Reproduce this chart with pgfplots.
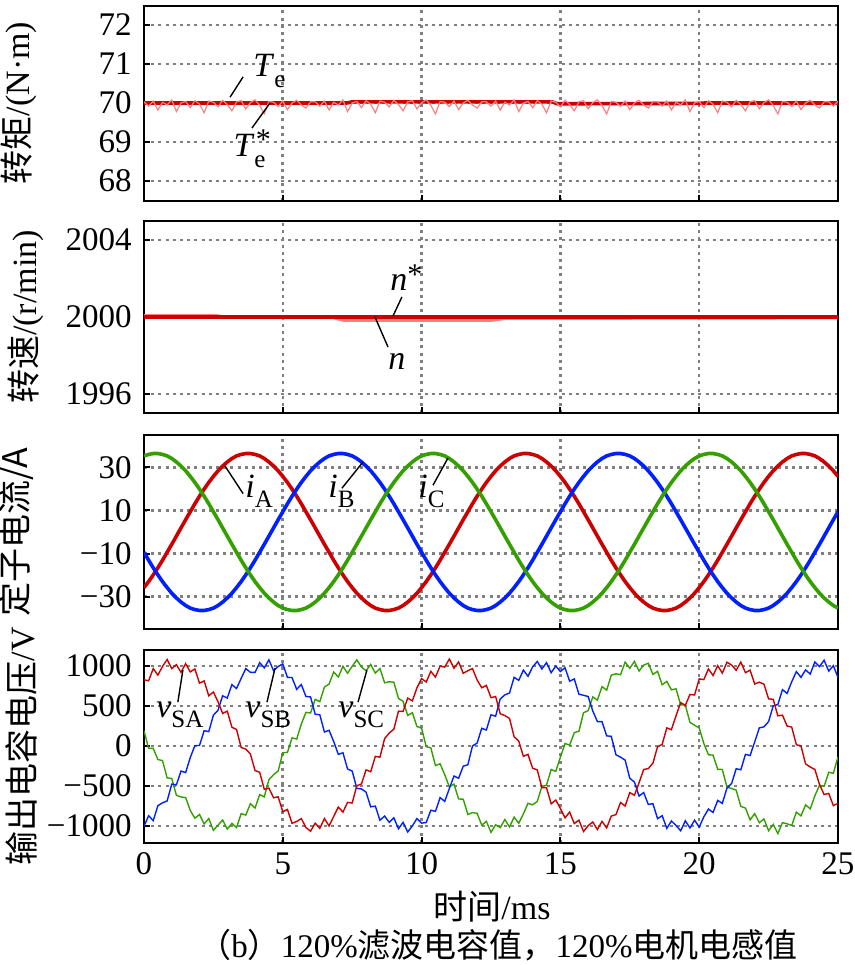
\documentclass[border=0pt]{standalone}
\usepackage{pgfplots}
\pgfplotsset{compat=1.18}
\usepackage{pgfplotstable}
\usepackage{fontspec}
\setmainfont{Liberation Serif}
\newfontfamily\cjk{Noto Sans CJK SC}
\definecolor{cR}{RGB}{204,0,0}
\definecolor{cB}{RGB}{0,32,255}
\definecolor{cG}{RGB}{51,160,0}
\definecolor{cP}{RGB}{255,128,128}
\definecolor{gridgray}{RGB}{128,128,128}
\newcommand{\tickf}{\fontsize{16.5}{18}\selectfont}
\newcommand{\labf}{\fontsize{17}{19}\selectfont}
\newcommand{\varf}{\fontsize{17}{19}\selectfont}
\newcommand{\sub}[1]{\raisebox{-0.3em}{\fontsize{12.5}{13}\selectfont #1}}

\pgfplotstableread{
t iA iB iC vA vB vC Te
0 -25.8 -9.4 35.3 830 -1003 193 70.03
0.167 -23.0 -13.1 36.0 817 -870 -27 69.92
0.333 -19.9 -16.6 36.4 970 -932 -28 70.05
0.5 -16.6 -19.9 36.4 888 -745 -168 69.82
0.667 -13.1 -23.0 36.0 996 -709 -181 70.02
0.833 -9.4 -25.8 35.3 1083 -686 -397 69.95
1 -5.7 -28.4 34.1 969 -475 -404 70.08
1.167 -1.9 -30.6 32.5 1019 -484 -615 69.78
1.333 1.9 -32.5 30.6 923 -312 -636 70.00
1.5 5.7 -34.1 28.4 1031 -331 -644 70.04
1.667 9.4 -35.3 25.8 928 -143 -805 69.88
1.833 13.1 -36.0 23.0 965 7 -902 70.06
2 16.6 -36.4 19.9 787 8 -855 69.97
2.167 19.9 -36.4 16.6 815 193 -973 69.75
2.333 23.0 -36.0 13.1 629 181 -906 70.05
2.5 25.8 -35.3 9.4 676 387 -1053 70.02
2.667 28.4 -34.1 5.7 555 449 -989 69.90
2.833 30.6 -32.5 1.9 409 630 -924 70.07
3 32.5 -30.6 -1.9 437 601 -1038 69.96
3.167 34.1 -28.4 -5.7 236 769 -966 69.80
3.333 35.3 -25.8 -9.4 208 720 -1018 70.03
3.5 36.0 -23.0 -13.1 -17 847 -845 70.06
3.667 36.4 -19.9 -16.6 -38 970 -862 69.85
3.833 36.4 -16.6 -19.9 -98 923 -720 70.01
4 36.0 -13.1 -23.0 -306 921 -774 70.08
4.167 35.3 -9.4 -25.8 -327 1043 -606 69.94
4.333 34.1 -5.7 -28.4 -539 979 -635 69.72
4.5 32.5 -1.9 -30.6 -525 1079 -419 70.04
4.667 30.6 1.9 -32.5 -646 943 -357 70.02
4.833 28.4 5.7 -34.1 -634 996 -311 69.91
5 25.8 9.4 -35.3 -820 1028 -83 70.05
5.167 23.0 13.1 -36.0 -792 860 -78 69.83
5.333 19.9 16.6 -36.4 -965 857 103 70.00
5.5 16.6 19.9 -36.4 -943 710 88 70.07
5.667 13.1 23.0 -36.0 -906 769 276 69.95
5.833 9.4 25.8 -35.3 -1018 621 422 69.87
6 5.7 28.4 -34.1 -1064 615 414 70.03
6.167 1.9 30.6 -32.5 -964 399 585 70.03
6.333 -1.9 32.5 -30.6 -1028 392 556 69.92
6.5 -5.7 34.1 -28.4 -906 176 739 70.05
6.667 -9.4 35.3 -25.8 -998 198 775 69.82
6.833 -13.1 36.0 -23.0 -880 58 927 70.02
7 -16.6 36.4 -19.9 -762 -103 865 69.95
7.167 -19.9 36.4 -16.6 -825 -83 998 70.08
7.333 -23.0 36.0 -13.1 -704 -286 911 69.78
7.5 -25.8 35.3 -9.4 -711 -312 998 70.00
7.667 -28.4 34.1 -5.7 -495 -529 1079 70.04
7.833 -30.6 32.5 -1.9 -474 -535 989 69.88
8 -32.5 30.6 1.9 -297 -576 943 70.06
8.167 -34.1 28.4 5.7 -321 -759 1021 69.97
8.333 -35.3 25.8 9.4 -128 -750 913 69.75
8.5 -36.0 23.0 13.1 -138 -927 970 70.05
8.667 -36.4 19.9 16.6 93 -875 792 70.02
8.833 -36.4 16.6 19.9 163 -953 805 69.90
9 -36.0 13.1 23.0 211 -896 799 70.07
9.167 -35.3 9.4 25.8 437 -1033 596 69.96
9.333 -34.1 5.7 28.4 434 -954 560 69.80
9.5 -32.5 1.9 30.6 600 -1074 384 70.03
9.667 -30.6 -1.9 32.5 566 -998 417 70.06
9.833 -28.4 -5.7 34.1 729 -906 246 69.85
10 -25.8 -9.4 35.3 845 -963 223 70.01
10.167 -23.0 -13.1 36.0 802 -955 -7 70.08
10.333 -19.9 -16.6 36.4 935 -802 -23 69.94
10.5 -16.6 -19.9 36.4 863 -815 -243 69.72
10.667 -13.1 -23.0 36.0 1001 -644 -221 70.04
10.833 -9.4 -25.8 35.3 988 -691 -357 70.02
11 -5.7 -28.4 34.1 1089 -530 -509 69.91
11.167 -1.9 -30.6 32.5 974 -374 -475 70.05
11.333 1.9 -32.5 30.6 1053 -402 -661 69.83
11.5 5.7 -34.1 28.4 911 -251 -664 70.00
11.667 9.4 -35.3 25.8 943 -233 -855 70.07
11.833 13.1 -36.0 23.0 970 2 -832 69.95
12 16.6 -36.4 19.9 827 38 -840 69.87
12.167 19.9 -36.4 16.6 730 223 -988 70.03
12.333 23.0 -36.0 13.1 759 201 -941 70.03
12.5 25.8 -35.3 9.4 606 392 -1078 69.92
12.667 28.4 -34.1 5.7 620 374 -984 70.05
12.833 30.6 -32.5 1.9 404 590 -1019 69.82
13 32.5 -30.6 -1.9 382 641 -918 70.02
13.167 34.1 -28.4 -5.7 346 664 -1011 69.95
13.333 35.3 -25.8 -9.4 118 860 -888 70.08
13.5 36.0 -23.0 -13.1 63 822 -965 69.78
13.667 36.4 -19.9 -16.6 -128 950 -847 70.00
13.833 36.4 -16.6 -19.9 -103 873 -715 70.04
14 36.0 -13.1 -23.0 -276 991 -734 69.88
14.167 35.3 -9.4 -25.8 -297 1058 -691 70.06
14.333 34.1 -5.7 -28.4 -519 964 -505 69.97
14.5 32.5 -1.9 -30.6 -520 1044 -489 69.75
14.667 30.6 1.9 -32.5 -721 918 -292 70.05
14.833 28.4 5.7 -34.1 -674 1001 -316 70.02
15 25.8 9.4 -35.3 -780 933 -138 69.90
15.167 23.0 13.1 -36.0 -897 980 32 70.07
15.333 19.9 16.6 -36.4 -825 812 13 69.96
15.5 16.6 19.9 -36.4 -968 840 168 69.80
15.667 13.1 23.0 -36.0 -926 649 186 70.03
15.833 9.4 25.8 -35.3 -1068 636 417 70.06
16 5.7 28.4 -34.1 -994 620 444 69.85
16.167 1.9 30.6 -32.5 -949 439 615 70.01
16.333 -1.9 32.5 -30.6 -1043 307 576 70.08
16.5 -5.7 34.1 -28.4 -941 306 744 69.94
16.667 -9.4 35.3 -25.8 -1023 128 700 69.72
16.833 -13.1 36.0 -23.0 -875 123 887 70.04
17 -16.6 36.4 -19.9 -857 -108 905 70.02
17.167 -19.9 36.4 -16.6 -705 -138 893 69.91
17.333 -23.0 36.0 -13.1 -749 -176 1051 70.05
17.5 -25.8 35.3 -9.4 -581 -402 973 69.83
17.667 -28.4 34.1 -5.7 -615 -449 1059 70.00
17.833 -30.6 32.5 -1.9 -459 -625 939 70.07
18 -32.5 30.6 1.9 -292 -581 1013 69.95
18.167 -34.1 28.4 5.7 -281 -729 1036 69.87
18.333 -35.3 25.8 9.4 -213 -720 898 70.03
18.5 -36.0 23.0 13.1 -8 -907 935 70.03
18.667 -36.4 19.9 16.6 23 -870 767 69.92
18.833 -36.4 16.6 19.9 228 -1028 810 70.05
19 -36.0 13.1 23.0 206 -936 704 69.82
19.167 -35.3 9.4 25.8 382 -993 716 70.02
19.333 -34.1 5.7 28.4 544 -1059 515 69.95
19.5 -32.5 1.9 30.6 510 -934 514 70.08
19.667 -30.6 -1.9 32.5 646 -1023 297 69.78
19.833 -28.4 -5.7 34.1 639 -926 261 70.00
20 -25.8 -9.4 35.3 840 -1013 228 70.04
20.167 -23.0 -13.1 36.0 832 -885 33 69.88
20.333 -19.9 -16.6 36.4 965 -787 -108 70.06
20.5 -16.6 -19.9 36.4 883 -830 -113 69.97
20.667 -13.1 -23.0 36.0 1006 -679 -291 69.75
20.833 -9.4 -25.8 35.3 913 -716 -292 70.05
21 -5.7 -28.4 34.1 1049 -525 -514 70.02
21.167 -1.9 -30.6 32.5 1014 -469 -530 69.90
21.333 1.9 -32.5 30.6 948 -282 -551 70.07
21.5 5.7 -34.1 28.4 1051 -296 -754 69.96
21.667 9.4 -35.3 25.8 918 -103 -775 69.80
21.833 13.1 -36.0 23.0 950 -118 -922 70.03
22 16.6 -36.4 19.9 777 53 -845 70.06
22.167 19.9 -36.4 16.6 800 228 -958 69.85
22.333 23.0 -36.0 13.1 774 241 -911 70.01
22.5 25.8 -35.3 9.4 591 307 -1058 70.08
22.667 28.4 -34.1 5.7 585 504 -979 69.94
22.833 30.6 -32.5 1.9 379 520 -1094 69.72
23 32.5 -30.6 -1.9 387 706 -958 70.04
23.167 34.1 -28.4 -5.7 251 659 -971 70.02
23.333 35.3 -25.8 -9.4 238 805 -993 69.91
23.5 36.0 -23.0 -13.1 18 932 -825 70.05
23.667 36.4 -19.9 -16.6 2 860 -872 69.83
23.833 36.4 -16.6 -19.9 -223 953 -735 70.00
24 36.0 -13.1 -23.0 -261 901 -784 70.07
24.167 35.3 -9.4 -25.8 -292 1053 -621 69.95
24.333 34.1 -5.7 -28.4 -479 994 -490 69.87
24.5 32.5 -1.9 -30.6 -605 1074 -504 70.03
24.667 30.6 1.9 -32.5 -591 938 -327 70.03
24.833 28.4 5.7 -34.1 -744 1006 -341 69.92
25 25.8 9.4 -35.3 -715 858 -133 70.05
}\data

\pgfplotsset{
  panel/.style={
    scale only axis, width=347pt, xmin=0, xmax=25,
    axis line style={line width=1pt, black},
    tick align=inside, tick pos=left,
    xtick={0,5,10,15,20,25},
    major tick length=3pt,
    every tick/.style={black, line width=1pt},
    grid=major,
    major grid style={gridgray, line width=1.3pt, dash pattern=on 1.5pt off 2.1pt},
    tick label style={font=\tickf},
    yticklabel style={xshift=-2.7pt},
    xticklabel style={yshift=-1.5pt},
    xticklabels={},
    ylabel style={at={(axis description cs:-0.1705,0.5)}, anchor=center, inner sep=0pt, font=\labf},
    anchor=north west,
  },
}
\tikzset{
  lead/.style={black, line width=0.7pt},
  var/.style={anchor=base west, inner sep=0pt, font=\varf},
}

\begin{document}
\begin{tikzpicture}
\useasboundingbox (0,0) rectangle (427.5pt,-482.5pt);

% Panel 1: torque
\begin{axis}[panel, at={(72pt,-2.75pt)}, height=97.5pt,
  ymin=67.5, ymax=72.5, ytick={68,69,70,71,72}, yticklabels={68,69,70,71,72},
  ylabel={{\cjk 转矩}/(N·m)}, ylabel style={yshift=3.5pt}]
\addplot[cR, line width=1.8pt] coordinates {(0,70) (7.3,70) (7.5,70.03) (14.7,70.03) (14.9,69.98) (20,69.99) (20.2,70) (25,70)};
\addplot[cP, line width=0.6pt] table[x=t, y=Te] {\data};
\draw[lead] (axis cs:3.57,70.67) -- (axis cs:3.10,70.15);
\node[var] at (axis cs:3.93,70.67) {\textit{T}\sub{e}};
\draw[lead] (axis cs:4.54,70.0) -- (axis cs:3.89,69.36);
\node[var] at (axis cs:3.21,68.62) {\textit{T}\sub{e}};
\node[anchor=base west, inner sep=0pt, font=\fontsize{15}{15}\selectfont] at (axis cs:4.02,68.8) {*};
\end{axis}

% Panel 2: speed
\begin{axis}[panel, at={(72pt,-110.375pt)}, height=96.25pt,
  ymin=1995, ymax=2005, ytick={1996,2000,2004}, yticklabels={1996,2000,2004},
  ylabel={{\cjk 转速}/(r/min)}]
\addplot[cP, line width=2pt] coordinates {(0,2000.05) (2.6,2000.05) (2.8,2000) (6.8,2000) (7.2,1999.85) (12.5,1999.85) (13,1999.95) (25,1999.98)};
\addplot[cR, line width=2pt] coordinates {(0,2000) (25,2000)};
\draw[lead] (axis cs:9.29,2001.04) -- (axis cs:8.97,2000.05);
\node[var] at (axis cs:8.86,2001.40) {\textit{n}\raisebox{3pt}{\fontsize{15}{15}\selectfont *}};
\draw[lead] (axis cs:8.32,2000.0) -- (axis cs:8.79,1998.44);
\node[var] at (axis cs:8.79,1997.25) {\textit{n}};
\end{axis}

% Panel 3: currents
\begin{axis}[panel, at={(72pt,-217.5pt)}, height=97pt,
  ymin=-45, ymax=45, ytick={-30,-10,10,30}, yticklabels={−30,−10,10,30},
  ylabel={\cjk 定子电流/A}, ylabel style={yshift=5pt}]
\addplot[cR, line width=1.8pt] table[x=t, y=iA] {\data};
\addplot[cB, line width=1.8pt] table[x=t, y=iB] {\data};
\addplot[cG, line width=1.8pt] table[x=t, y=iC] {\data};
\draw[lead] (axis cs:2.92,30.6) -- (axis cs:3.57,17.8);
\node[var] at (axis cs:3.64,16.1) {\textit{i}\sub{A}};
\draw[lead] (axis cs:7.89,32.5) -- (axis cs:7.13,20.3);
\node[var] at (axis cs:6.63,16.1) {\textit{i}\sub{B}};
\draw[lead] (axis cs:10.95,34.3) -- (axis cs:10.41,21.7);
\node[var] at (axis cs:9.87,16.1) {\textit{i}\sub{C}};
\end{axis}

% Panel 4: capacitor voltages
\begin{axis}[panel, at={(72pt,-324.75pt)}, height=96.6pt,
  ymin=-1208, ymax=1208, ytick={-1000,-500,0,500,1000}, yticklabels={−1000,−500,0,500,1000},
  xticklabels={0,5,10,15,20,25},
  ylabel={{\cjk 输出电容电压}/V}, ylabel style={yshift=2pt}]
\addplot[cG, line width=0.7pt] table[x=t, y=vC] {\data};
\addplot[cB, line width=0.7pt] table[x=t, y=vB] {\data};
\addplot[cR, line width=0.7pt] table[x=t, y=vA] {\data};
\draw[lead] (axis cs:1.40,950) -- (axis cs:1.22,550);
\node[var] at (axis cs:0.43,362) {\textit{v}\sub{SA}};
\draw[lead] (axis cs:4.72,975) -- (axis cs:4.43,550);
\node[var] at (axis cs:3.64,362) {\textit{v}\sub{SB}};
\draw[lead] (axis cs:8.03,950) -- (axis cs:7.71,550);
\node[var] at (axis cs:6.99,362) {\textit{v}\sub{SC}};
\end{axis}

\node[font=\labf] at (246pt,-453.5pt) {{\cjk 时间}/ms};
\node[font=\fontsize{16.5}{18}\selectfont] at (249pt,-472.5pt) {{\cjk （}b{\cjk ）}120\%{\cjk 滤波电容值，}120\%{\cjk 电机电感值}};
\end{tikzpicture}
\end{document}
